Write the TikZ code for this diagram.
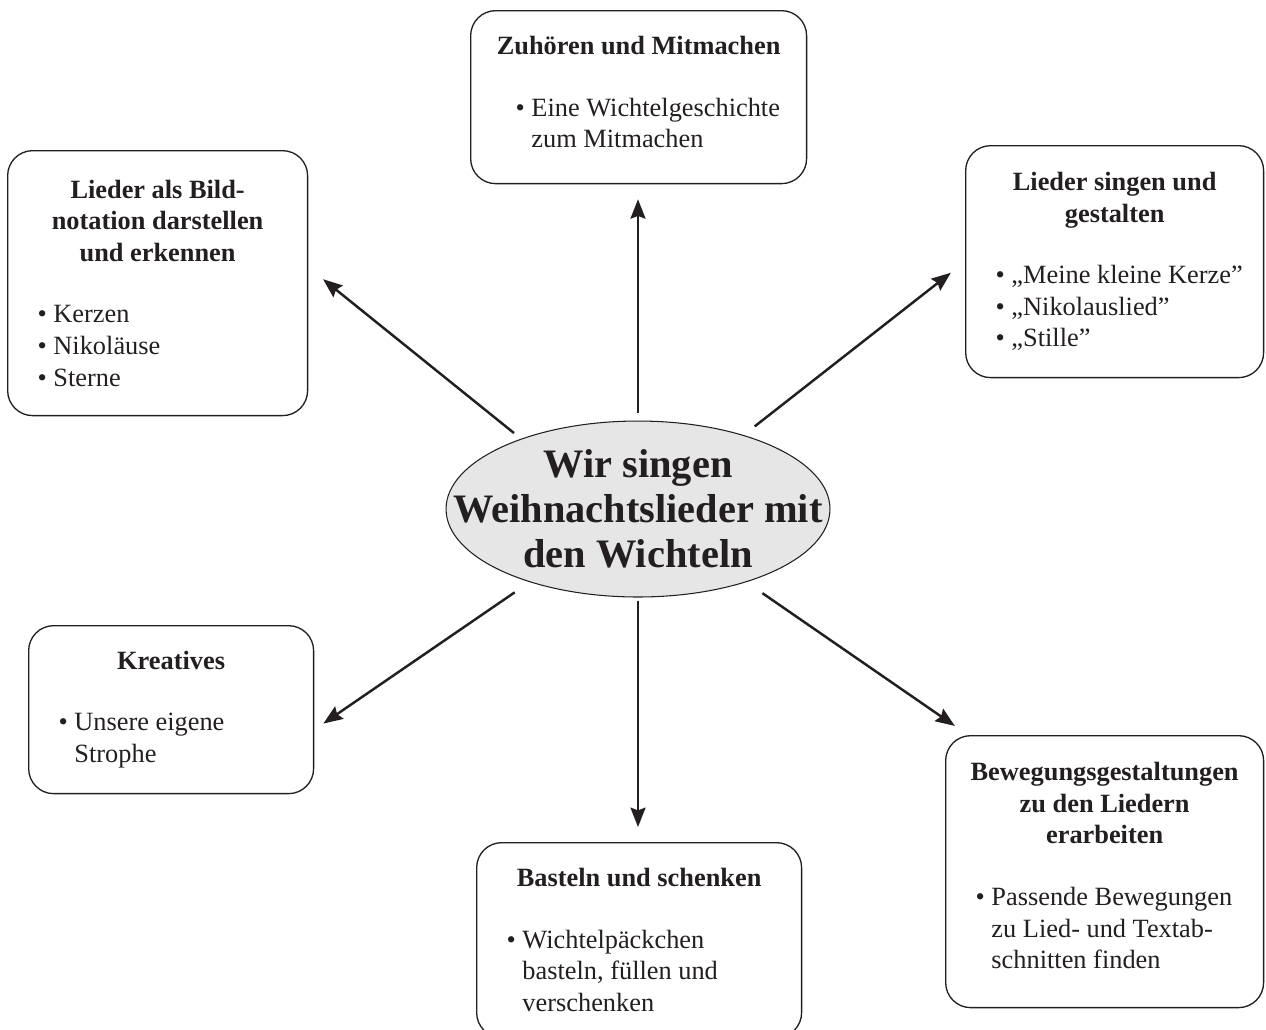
\documentclass[tikz,border=0pt]{standalone}
\usepackage{fontspec}
\setmainfont{Liberation Serif}
\usetikzlibrary{shapes.geometric,arrows.meta}

\definecolor{ink}{RGB}{35,31,32}
\definecolor{hubgray}{RGB}{230,230,231}

\begin{document}
\begin{tikzpicture}[x=0.02cm,y=-0.02cm]
    \newcommand{\boxtitle}[1]{{\centering\bfseries
      \leftskip=-4mm plus 1fil\relax\rightskip=-4mm plus 1fil\relax #1\par}\vspace{17pt}}
    \newcommand{\bul}[1]{\noindent\hangindent=0.6em\hangafter=1
      \rightskip=-1cm plus 1fil\relax\textbullet\ #1\par}
    \tikzstyle{dedge} = [line width=1.4pt,->,>={Stealth[length=11pt,width=8.5pt,inset=1.5pt]},draw=ink]
    \tikzstyle{topic}=[
      rectangle,
      draw=ink,
      line width=0.75pt,
      rounded corners=0.5cm,
      anchor=north west,
      inner xsep=0.6cm,
      inner ysep=0pt,
      align=flush left,
      text=ink,
      font=\fontsize{15}{18}\selectfont,
    ]
    \tikzstyle{hub}=[ellipse,draw=ink,line width=0.6pt,fill=hubgray,
      minimum width=7.68cm,minimum height=3.52cm,inner sep=0pt]
    \tikzstyle{hubtext}=[align=center,text=ink,
      font=\fontsize{23}{25.5}\selectfont\bfseries]

    \useasboundingbox (0,0) rectangle (1266,1029);

    \node[hub,label={[hubtext]center:{Wir singen\\Weihnachtslieder mit\\den Wichteln}}]
      (hub) at (638,509) {};

    \node[topic,minimum width=6.72cm,minimum height=3.46cm,text width=5.52cm] (zuhoer) at
      (470,10)
      {\boxtitle{Zuhören und Mitmachen}
       \leftskip=0.3cm
       \bul{Eine Wichtelgeschichte\newline zum Mitmachen}
       \vspace{0.2cm}};
    \node[topic,minimum width=6cm,minimum height=5.3cm,text width=4.8cm] (bild) at
      (7,150)
      {\boxtitle{Lieder als Bild-\\notation darstellen\\und erkennen}
       \bul{Kerzen}
       \bul{Nikoläuse}
       \bul{Sterne}};
    \node[topic,minimum width=5.96cm,minimum height=4.64cm,text width=4.76cm] (singen) at
      (965,145)
      {\boxtitle{Lieder singen und\\gestalten}
       \bul{„Meine kleine Kerze”}
       \bul{„Nikolauslied”}
       \bul{„Stille”}};
    \node[topic,minimum width=5.7cm,minimum height=3.36cm,text width=4.5cm] (kreativ) at
      (28,625)
      {\boxtitle{Kreatives}
       \bul{Unsere eigene\newline Strophe}};
    \node[topic,minimum width=6.5cm,minimum height=3.9cm,text width=5.3cm] (basteln) at
      (476,842)
      {\boxtitle{Basteln und schenken}
       \bul{Wichtelpäckchen\newline basteln, füllen und\newline verschenken}};
    \node[topic,minimum width=6.36cm,minimum height=5.44cm,text width=5.16cm] (beweg) at
      (945,735)
      {\boxtitle{Bewegungsgestaltungen\\zu den Liedern\\erarbeiten}
       \bul{Passende Bewegungen\newline zu Lied- und Textab-\newline schnitten finden}
       \vspace{0.24cm}};

    % hub -> topics
    \draw[dedge,shorten <=0.16cm,shorten >=0.3cm] (hub.north)
               --(hub.north |- zuhoer.south);
    \draw[dedge,shorten <=0.18cm,shorten >=0.38cm] (hub.149)
               --(bild.6);
    \draw[dedge,shorten <=0.28cm,shorten >=0.36cm] (hub.35)
               --(singen.west);
    \draw[dedge,shorten <=0.36cm,shorten >=0.22cm] (hub.214)
               --(kreativ.352);
    \draw[dedge,shorten <=0.06cm,shorten >=0.3cm] (hub.south)
               --(hub.south |- basteln.north);
    \draw[dedge,shorten <=0.39cm,shorten >=0.32cm] (hub.326)
               --(beweg.135);
\end{tikzpicture}
\end{document}
